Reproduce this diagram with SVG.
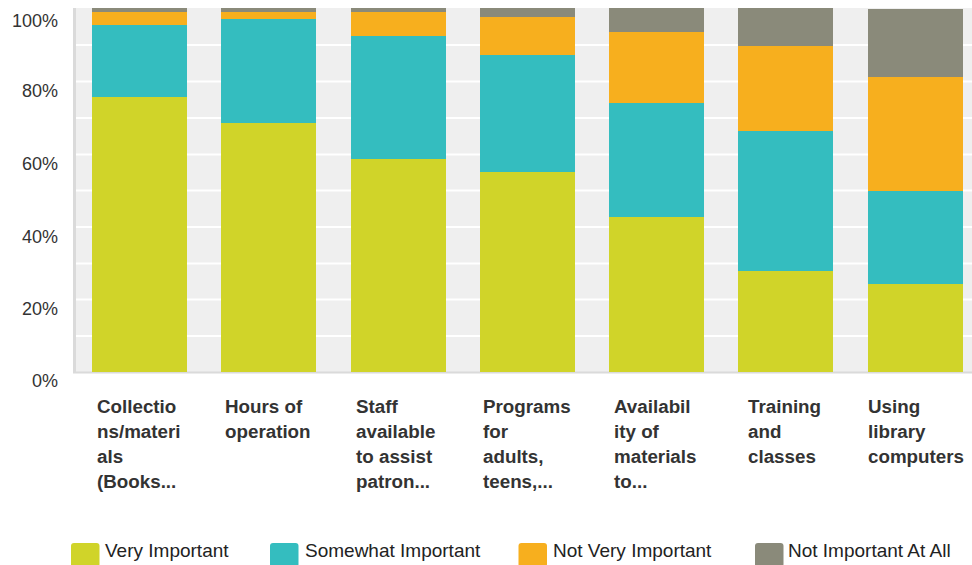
<svg xmlns="http://www.w3.org/2000/svg" width="972" height="565" viewBox="0 0 972 565">
<style>
.vi{fill:#D0D429}.si{fill:#34BDBF}.nv{fill:#F7AF1E}.na{fill:#8A8A7A}
.grid{stroke:#ffffff;stroke-width:2}
.yl{font-family:"Liberation Sans",Arial,sans-serif;font-size:18px;fill:#333333;text-anchor:end}
.xl{font-family:"Liberation Sans",Arial,sans-serif;font-size:18.8px;font-weight:bold;fill:#333333}
.lg{font-family:"Liberation Sans",Arial,sans-serif;font-size:19px;fill:#222222}
</style>
<rect width="972" height="565" fill="#ffffff"/>
<g id="plot">
<rect x="75" y="8" width="897" height="364" fill="#EFEFEF"/>
<g id="gridlines">
<line class="grid" x1="76" x2="972" y1="45" y2="45"/>
<line class="grid" x1="76" x2="972" y1="81.5" y2="81.5"/>
<line class="grid" x1="76" x2="972" y1="118" y2="118"/>
<line class="grid" x1="76" x2="972" y1="154.5" y2="154.5"/>
<line class="grid" x1="76" x2="972" y1="190.5" y2="190.5"/>
<line class="grid" x1="76" x2="972" y1="227" y2="227"/>
<line class="grid" x1="76" x2="972" y1="263.5" y2="263.5"/>
<line class="grid" x1="76" x2="972" y1="299.5" y2="299.5"/>
<line class="grid" x1="76" x2="972" y1="336" y2="336"/>
</g>
<line x1="74.5" y1="8" x2="74.5" y2="373" stroke="#DADADA" stroke-width="3"/>
<line x1="73" y1="372.5" x2="972" y2="372.5" stroke="#DADADA" stroke-width="2"/>
</g>
<g id="yaxis">
<text class="yl" x="58" y="27">100%</text>
<text class="yl" x="58" y="96.5">80%</text>
<text class="yl" x="58" y="169.5">60%</text>
<text class="yl" x="58" y="243">40%</text>
<text class="yl" x="58" y="315">20%</text>
<text class="yl" x="58" y="387">0%</text>
</g>
<g id="bar1">
<rect class="na" x="92" y="8" width="95" height="4"/>
<rect class="nv" x="92" y="12" width="95" height="13"/>
<rect class="si" x="92" y="25" width="95" height="72"/>
<rect class="vi" x="92" y="97" width="95" height="275"/>
<text class="xl" x="97" y="413">Collectio</text>
<text class="xl" x="97" y="438">ns/materi</text>
<text class="xl" x="97" y="463">als</text>
<text class="xl" x="97" y="488">(Books...</text>
</g>
<g id="bar2">
<rect class="na" x="221" y="8" width="95" height="4"/>
<rect class="nv" x="221" y="12" width="95" height="7"/>
<rect class="si" x="221" y="19" width="95" height="104"/>
<rect class="vi" x="221" y="123" width="95" height="249"/>
<text class="xl" x="225" y="413">Hours of</text>
<text class="xl" x="225" y="438">operation</text>
</g>
<g id="bar3">
<rect class="na" x="351" y="8" width="95" height="4"/>
<rect class="nv" x="351" y="12" width="95" height="24"/>
<rect class="si" x="351" y="36" width="95" height="123"/>
<rect class="vi" x="351" y="159" width="95" height="213"/>
<text class="xl" x="356" y="413">Staff</text>
<text class="xl" x="356" y="438">available</text>
<text class="xl" x="356" y="463">to assist</text>
<text class="xl" x="356" y="488">patron...</text>
</g>
<g id="bar4">
<rect class="na" x="480" y="8" width="95" height="9"/>
<rect class="nv" x="480" y="17" width="95" height="38"/>
<rect class="si" x="480" y="55" width="95" height="117"/>
<rect class="vi" x="480" y="172" width="95" height="200"/>
<text class="xl" x="483" y="413">Programs</text>
<text class="xl" x="483" y="438">for</text>
<text class="xl" x="483" y="463">adults,</text>
<text class="xl" x="483" y="488">teens,...</text>
</g>
<g id="bar5">
<rect class="na" x="609" y="8" width="95" height="24"/>
<rect class="nv" x="609" y="32" width="95" height="71"/>
<rect class="si" x="609" y="103" width="95" height="114"/>
<rect class="vi" x="609" y="217" width="95" height="155"/>
<text class="xl" x="614" y="413">Availabil</text>
<text class="xl" x="614" y="438">ity of</text>
<text class="xl" x="614" y="463">materials</text>
<text class="xl" x="614" y="488">to...</text>
</g>
<g id="bar6">
<rect class="na" x="738" y="8" width="95" height="38"/>
<rect class="nv" x="738" y="46" width="95" height="85"/>
<rect class="si" x="738" y="131" width="95" height="140"/>
<rect class="vi" x="738" y="271" width="95" height="101"/>
<text class="xl" x="748" y="413">Training</text>
<text class="xl" x="748" y="438">and</text>
<text class="xl" x="748" y="463">classes</text>
</g>
<g id="bar7">
<rect class="na" x="868" y="9" width="95" height="68"/>
<rect class="nv" x="868" y="77" width="95" height="114"/>
<rect class="si" x="868" y="191" width="95" height="93"/>
<rect class="vi" x="868" y="284" width="95" height="88"/>
<text class="xl" x="868" y="413">Using</text>
<text class="xl" x="868" y="438">library</text>
<text class="xl" x="868" y="463">computers</text>
</g>
<g id="legend">
<rect class="vi" x="71" y="543" width="28.5" height="24" rx="3"/>
<text class="lg" x="105" y="557">Very Important</text>
<rect class="si" x="270" y="543" width="28.5" height="24" rx="3"/>
<text class="lg" x="305" y="557">Somewhat Important</text>
<rect class="nv" x="518.5" y="543" width="28.5" height="24" rx="3"/>
<text class="lg" x="553" y="557">Not Very Important</text>
<rect class="na" x="755" y="543" width="28.5" height="24" rx="3"/>
<text class="lg" x="788" y="557">Not Important At All</text>
</g>
</svg>
